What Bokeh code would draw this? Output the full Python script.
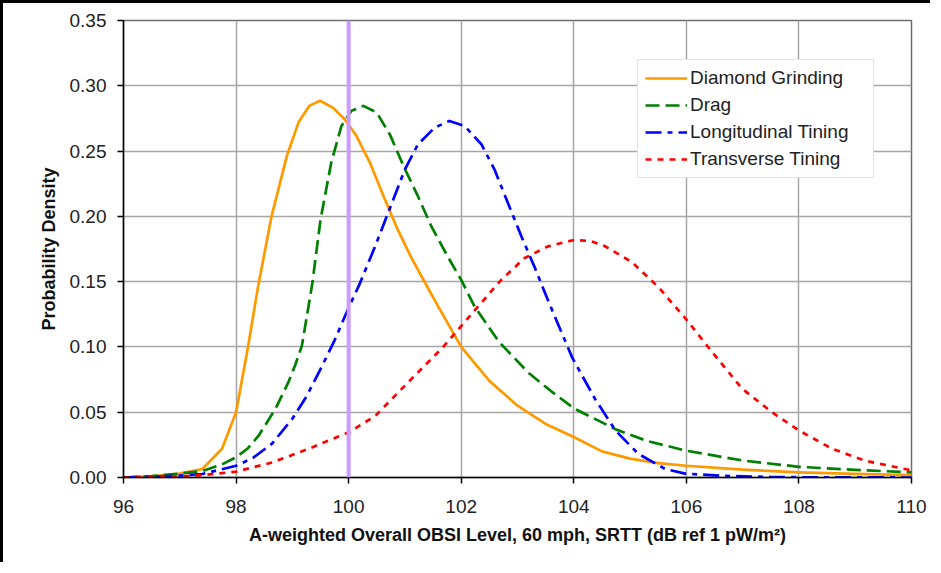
from bokeh.plotting import figure
from bokeh.models import Span, Legend, LegendItem, FixedTicker, NumeralTickFormatter, Range1d
from bokeh.embed import file_html
from bokeh.resources import INLINE

# ---- data ----
series_names = ["Diamond Grinding", "Drag", "Longitudinal Tining", "Transverse Tining"]

dg_x = [96.0, 96.5, 97.0, 97.4, 97.75, 98.0, 98.2, 98.39, 98.63, 98.9, 99.11, 99.3, 99.49, 99.72,
        99.93, 100.14, 100.38, 100.62, 100.86, 101.1, 101.34, 101.59, 102.0, 102.5, 103.0,
        103.5, 104.0, 104.5, 105.0, 105.5, 106.0, 107.0, 108.0, 109.0, 110.0]
dg_y = [0.0, 0.0008, 0.003, 0.0065, 0.022, 0.05, 0.097, 0.146, 0.200, 0.246, 0.272, 0.2846, 0.2885, 0.2833,
        0.2744, 0.2615, 0.241, 0.2154, 0.191, 0.1695, 0.1505, 0.131, 0.100, 0.074, 0.055,
        0.041, 0.031, 0.020, 0.0145, 0.011, 0.009, 0.006, 0.004, 0.0028, 0.0018]

drag_x = [96.0, 96.5, 97.0, 97.4, 97.75, 98.0, 98.2, 98.4, 98.7, 98.93, 99.05, 99.17, 99.355, 99.5,
          99.69, 99.87, 100.05, 100.26, 100.5, 100.74, 100.98, 101.22, 101.47, 101.76, 102.0,
          102.24, 102.67, 103.2, 103.6, 104.0, 104.74, 105.3, 106.0, 107.0, 108.0, 109.0, 110.0]
drag_y = [0.0, 0.001, 0.003, 0.005, 0.010, 0.0155, 0.022, 0.032, 0.0526, 0.073, 0.086, 0.101, 0.1487, 0.1974,
          0.241, 0.269, 0.2808, 0.2846, 0.2795, 0.262, 0.238, 0.2165, 0.1923, 0.1692, 0.1513,
          0.1308, 0.104, 0.080, 0.066, 0.053, 0.037, 0.028, 0.0205, 0.013, 0.0082, 0.0058, 0.004]

lt_x = [96.0, 96.5, 97.0, 97.4, 98.0, 98.3, 98.64, 99.0, 99.25, 99.5, 99.75, 100.0, 100.2, 100.47,
        100.74, 101.0, 101.23, 101.53, 101.79, 102.06, 102.36, 102.59, 102.83, 103.07, 103.3,
        103.54, 103.97, 104.38, 104.74, 105.15, 105.63, 105.98, 106.64, 107.5, 108.0, 110.0]
lt_y = [0.0, 0.0005, 0.0015, 0.0027, 0.009, 0.015, 0.026, 0.045, 0.062, 0.083, 0.105, 0.130, 0.1487, 0.177,
        0.207, 0.236, 0.2551, 0.268, 0.2731, 0.2692, 0.2551, 0.236, 0.2102, 0.1846, 0.1615,
        0.1359, 0.092, 0.060, 0.036, 0.018, 0.0064, 0.003, 0.0013, 0.0004, 0.0002, 0.0]

tt_x = [96.0, 96.5, 97.0, 97.4, 98.0, 98.64, 99.29, 100.0, 100.47, 101.06, 101.66, 102.3, 102.71,
        103.12, 103.54, 104.01, 104.31, 104.56, 105.03, 105.5, 105.98, 106.46, 106.99, 107.52,
        108.0, 108.59, 109.18, 109.95, 110.0]
tt_y = [0.0, 0.0005, 0.0008, 0.0018, 0.0045, 0.0115, 0.022, 0.0346, 0.047, 0.073, 0.099, 0.131, 0.1513,
        0.1679, 0.177, 0.182, 0.181, 0.177, 0.165, 0.146, 0.122, 0.096, 0.068, 0.050,
        0.036, 0.022, 0.0128, 0.0059, 0.005]

marker_x = 100.0
x_ticks = [96, 98, 100, 102, 104, 106, 108, 110]
y_ticks = [0.0, 0.05, 0.10, 0.15, 0.20, 0.25, 0.30, 0.35]

colors = ["#ff9900", "#008000", "#0000ff", "#ff0000"]
dashes = ["solid", "14 6", "16 6 5 6", "6 6"]

p = figure(width=930, height=562, output_backend="svg", toolbar_location=None,
           x_range=Range1d(96, 110), y_range=Range1d(0, 0.35),
           min_border_left=120, min_border_right=22, min_border_top=17, min_border_bottom=88)
p.styles = {"border-top": "3px solid black", "border-left": "3px solid black"}
p.background_fill_color = "white"
p.border_fill_color = "white"
p.outline_line_color = "#6f6f6f"
p.outline_line_width = 1.5

for ax in (p.xaxis[0], p.yaxis[0]):
    ax.axis_line_color = "black"
    ax.axis_line_width = 1.5
    ax.major_tick_line_color = "black"
    ax.major_tick_line_width = 1.5
    ax.major_tick_out = 6
    ax.major_tick_in = 0
    ax.minor_tick_line_color = None
    ax.major_label_text_font = "Liberation Sans"
    ax.major_label_text_font_size = "19px"
    ax.major_label_text_color = "#222222"
    ax.axis_label_text_font = "Liberation Sans"
    ax.axis_label_text_font_style = "bold"
    ax.axis_label_text_font_size = "18px"
    ax.axis_label_text_color = "#111111"

p.xaxis.ticker = FixedTicker(ticks=x_ticks)
p.yaxis.ticker = FixedTicker(ticks=y_ticks)
p.yaxis.formatter = NumeralTickFormatter(format="0.00")
p.xaxis.axis_label = "A-weighted Overall OBSI Level, 60 mph, SRTT (dB ref 1 pW/m²)"
p.yaxis.axis_label = "Probability Density"
p.xaxis.major_label_standoff = 16
p.yaxis.major_label_standoff = 11
p.xaxis.axis_label_standoff = 9
p.yaxis.axis_label_standoff = 8

p.xgrid.ticker = FixedTicker(ticks=x_ticks)
p.ygrid.ticker = FixedTicker(ticks=y_ticks)
p.grid.grid_line_color = "#a6a6a6"
p.grid.grid_line_width = 1.5

p.add_layout(Span(location=marker_x, dimension="height", line_color="#cc99ff", line_width=4))

renderers = []
for xs, ys, c, d in zip([dg_x, drag_x, lt_x, tt_x], [dg_y, drag_y, lt_y, tt_y], colors, dashes):
    r = p.line(xs, ys, line_color=c, line_width=2.7, line_dash=d, line_join="round")
    renderers.append(r)

legend = Legend(items=[LegendItem(label=n, renderers=[r]) for n, r in zip(series_names, renderers)],
                location=(514, 299))
legend.label_text_font = "Liberation Sans"
legend.label_text_font_size = "19px"
legend.label_text_color = "#222222"
legend.glyph_width = 42
legend.glyph_height = 20
legend.label_height = 20
legend.label_width = 176
legend.label_standoff = 3
legend.spacing = 5
legend.padding = 7
legend.margin = 0
legend.border_line_color = "#c8c8c8"
legend.border_line_width = 1
legend.background_fill_color = "white"
legend.background_fill_alpha = 1.0
p.add_layout(legend, "center")

open("out.html", "w").write(file_html(p, INLINE))
